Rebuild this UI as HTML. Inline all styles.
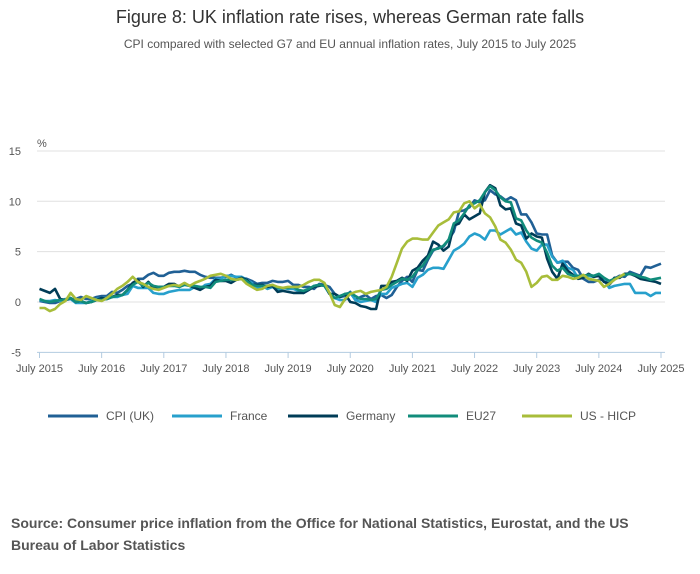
<!DOCTYPE html>
<html><head><meta charset="utf-8"><style>
body{margin:0;background:#fff;font-family:"Liberation Sans",sans-serif;}
#wrap{position:relative;width:700px;height:574px;overflow:hidden;}
.t{position:absolute;white-space:nowrap;}
</style></head><body>
<div id="wrap">
<div class="t" style="left:0;width:700px;text-align:center;top:7px;font-size:18px;color:#333;">Figure 8: UK inflation rate rises, whereas German rate falls</div>
<div class="t" style="left:0;width:700px;text-align:center;top:37px;font-size:12px;color:#555;">CPI compared with selected G7 and EU annual inflation rates, July 2015 to July 2025</div>
<svg id="chart" width="700" height="460" style="position:absolute;left:0;top:0"></svg>
<div class="t" style="left:11px;top:512px;font-size:14px;font-weight:bold;color:#555;line-height:22px;white-space:normal;width:630px;">Source: Consumer price inflation from the Office for National Statistics, Eurostat, and the US Bureau of Labor Statistics</div>
</div>
<script>
const yTicks=[15,10,5,0,-5];
const xLabels=["July 2015","July 2016","July 2017","July 2018","July 2019","July 2020","July 2021","July 2022","July 2023","July 2024","July 2025"];
const seriesNames=["CPI (UK)","France","Germany","EU27","US - HICP"];
const uk=[0.1,0.0,-0.1,-0.1,0.1,0.2,0.3,0.3,0.5,0.3,0.3,0.5,0.6,0.6,1.0,0.9,1.2,1.6,1.8,2.3,2.3,2.7,2.9,2.6,2.6,2.9,3.0,3.0,3.1,3.0,3.0,2.7,2.5,2.4,2.4,2.4,2.5,2.7,2.4,2.4,2.3,2.1,1.8,1.9,1.9,2.1,2.0,2.0,2.1,1.7,1.7,1.5,1.5,1.3,1.8,1.7,1.5,0.8,0.5,0.6,1.0,0.2,0.5,0.7,0.3,0.6,0.7,0.4,0.7,1.5,2.1,2.5,2.0,3.2,3.1,4.2,5.1,5.4,5.5,6.2,7.0,9.0,9.1,9.4,10.1,9.9,10.1,11.1,10.7,10.5,10.1,10.4,10.1,8.7,8.7,7.9,6.8,6.7,6.7,4.6,3.9,4.0,4.0,3.4,3.2,2.3,2.0,2.0,2.2,2.2,1.7,2.3,2.6,2.5,3.0,2.8,2.6,3.5,3.4,3.6,3.8];
const france=[0.2,0.1,0.1,0.2,0.1,0.3,0.3,-0.1,-0.1,-0.1,0.1,0.3,0.4,0.4,0.5,0.5,0.7,0.8,1.6,1.4,1.4,1.4,0.9,0.8,0.8,1.0,1.1,1.2,1.2,1.2,1.5,1.3,1.7,1.8,2.3,2.3,2.6,2.6,2.5,2.5,2.2,1.9,1.4,1.6,1.3,1.5,1.1,1.4,1.3,1.3,1.1,0.9,1.2,1.6,1.7,1.6,0.8,0.4,0.2,0.2,0.9,0.2,0.0,0.1,0.2,0.0,0.8,0.8,1.4,1.6,1.8,1.9,1.5,2.4,2.7,3.2,3.4,3.4,3.3,4.2,5.1,5.4,5.8,6.5,6.8,6.6,6.2,7.1,7.1,6.7,7.0,7.3,6.7,6.9,6.0,5.3,5.1,5.7,5.7,4.5,3.9,4.1,3.4,3.2,2.4,2.4,2.6,2.5,2.7,2.2,1.4,1.6,1.7,1.8,1.8,0.9,0.9,0.9,0.6,0.9,0.9];
const germany=[1.3,1.1,0.9,1.3,0.3,0.2,0.4,0.0,0.1,-0.1,0.0,0.2,0.4,0.3,0.5,0.7,0.7,1.2,1.9,2.2,1.5,2.0,1.4,1.5,1.5,1.8,1.8,1.5,1.8,1.6,1.4,1.2,1.5,1.6,2.2,2.1,2.1,1.9,2.2,2.4,2.2,1.7,1.7,1.7,1.5,1.6,1.0,1.1,1.0,0.9,0.9,0.9,1.2,1.5,1.6,1.7,0.8,0.8,0.5,0.8,0.0,-0.1,-0.4,-0.5,-0.7,-0.7,1.6,1.6,2.0,2.1,2.4,2.1,3.1,3.4,4.1,4.6,6.0,5.7,5.1,5.5,7.6,7.8,8.7,8.2,8.5,8.8,10.9,11.6,11.3,9.6,9.2,9.3,7.8,7.6,6.3,6.8,6.5,6.4,4.3,3.0,2.3,3.8,3.1,2.7,2.3,2.4,2.8,2.5,2.6,2.0,1.8,2.4,2.4,2.8,2.8,2.6,2.3,2.2,2.1,2.0,1.8];
const eu27=[0.3,0.1,0.0,0.1,0.2,0.2,0.4,0.0,0.1,-0.1,0.0,0.2,0.2,0.3,0.5,0.6,0.7,1.2,1.7,2.0,1.6,1.9,1.6,1.5,1.5,1.6,1.6,1.5,1.7,1.6,1.6,1.5,1.5,1.4,2.0,2.1,2.2,2.2,2.2,2.3,2.1,1.7,1.6,1.6,1.6,1.7,1.4,1.4,1.4,1.5,1.2,1.1,1.3,1.6,1.7,1.6,0.9,0.4,0.6,0.8,0.9,0.6,0.3,0.3,0.2,0.3,1.2,1.3,1.7,2.0,2.3,2.2,2.5,3.2,3.6,4.4,5.2,5.3,5.6,6.2,7.8,8.1,8.8,9.6,9.8,10.1,10.9,11.5,11.1,10.4,10.0,9.9,8.3,8.1,7.1,6.4,6.1,5.9,4.9,3.6,3.1,3.4,2.8,2.6,2.6,2.6,2.7,2.6,2.8,2.4,2.1,2.3,2.5,2.7,2.8,2.7,2.5,2.4,2.2,2.3,2.4];
const us=[-0.6,-0.6,-0.9,-0.7,-0.2,0.1,0.9,0.3,0.2,0.6,0.4,0.2,0.1,0.4,0.8,1.3,1.6,2.0,2.5,2.0,1.8,1.5,1.3,1.2,1.4,1.6,1.7,1.6,1.9,1.6,1.9,2.1,2.3,2.6,2.7,2.8,2.6,2.3,2.2,2.3,1.8,1.5,1.2,1.3,1.6,1.7,1.5,1.4,1.5,1.5,1.5,1.7,2.0,2.2,2.2,1.9,0.9,-0.3,-0.5,0.3,0.8,1.0,1.1,0.8,1.0,1.1,1.2,1.5,2.5,3.9,5.3,6.0,6.3,6.3,6.2,6.2,6.9,7.6,7.9,8.2,8.9,9.0,9.8,10.0,9.3,9.7,8.8,8.4,7.5,6.2,5.9,5.2,4.2,3.9,3.0,1.5,1.9,2.5,2.6,2.2,2.2,2.6,2.5,2.3,2.4,2.7,2.3,2.2,2.1,1.5,1.8,2.2,2.5,2.8,null,null,null,null,null,null,null];
const colors=["#206095","#27a0cc","#003c57","#118c7b","#a8bd3a"];
const allSeries=[uk,france,germany,eu27,us];
const NS="http://www.w3.org/2000/svg";
const svg=document.getElementById('chart');
const X0=39.5,X1=661,Y0=302,PPU=10.07;
function xs(i){return X0+(X1-X0)*i/120;}
function ys(v){return Y0-v*PPU;}
function mk(tag,attrs){const e=document.createElementNS(NS,tag);for(const k in attrs)e.setAttribute(k,attrs[k]);svg.appendChild(e);return e;}
yTicks.forEach(v=>{
  const l=mk('line',{x1:37,x2:665,y1:ys(v),y2:ys(v),stroke:v===-5?'#b3cbe0':'#e0e0e0','stroke-width':1});
  
  
  const t=mk('text',{x:21,y:ys(v)+4,'text-anchor':'end','font-size':11,fill:'#555','font-family':'Liberation Sans'});
  t.textContent=v;
  
  
});
const pc=mk('text',{x:37,y:147,'font-size':11,fill:'#555','font-family':'Liberation Sans'});pc.textContent='%';


xLabels.forEach((s,k)=>{
  const x=xs(k*12);
  const l=mk('line',{x1:x,x2:x,y1:352,y2:358,stroke:'#b3cbe0','stroke-width':1});
  
  
  const t=mk('text',{x:x,y:372,'text-anchor':'middle','font-size':11,fill:'#555','font-family':'Liberation Sans'});
  t.textContent=s;
  
  
});
allSeries.forEach((d,si)=>{
  let p='',pen=false;
  d.forEach((v,i)=>{if(v===null){pen=false;return;}p+=(pen?'L':'M')+xs(i).toFixed(1)+','+ys(v).toFixed(1);pen=true;});
  const e=mk('path',{d:p,fill:'none',stroke:colors[si],'stroke-width':2.6,'stroke-linejoin':'round'});
  
  
});
const legX=[48,172,288,408,522];
seriesNames.forEach((n,si)=>{
  const g=document.createElementNS(NS,'g');svg.appendChild(g);
  
  
  const l=document.createElementNS(NS,'line');
  l.setAttribute('x1',legX[si]);l.setAttribute('x2',legX[si]+50);l.setAttribute('y1',416);l.setAttribute('y2',416);
  l.setAttribute('stroke',colors[si]);l.setAttribute('stroke-width',3);g.appendChild(l);
  const t=document.createElementNS(NS,'text');
  t.setAttribute('x',legX[si]+58);t.setAttribute('y',420);t.setAttribute('font-size',12);t.setAttribute('fill','#555');t.setAttribute('font-family','Liberation Sans');
  t.textContent=n;g.appendChild(t);
});
</script>
</body></html>
